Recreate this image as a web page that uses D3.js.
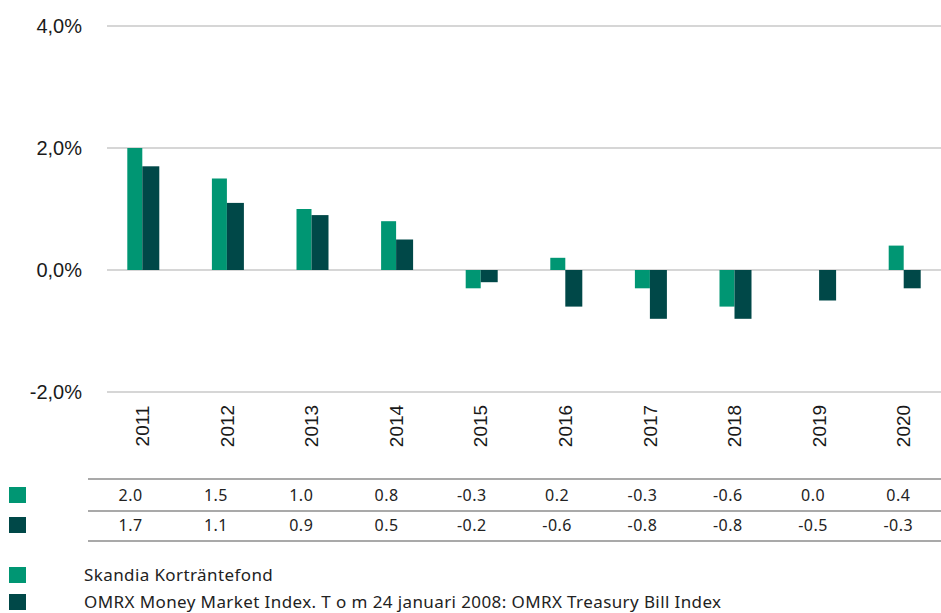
<!DOCTYPE html>
<html>
<head>
<meta charset="utf-8">
<script src="https://cdn.jsdelivr.net/npm/d3@7"></script>
<style>
  body { margin: 0; background: #fff; }
  svg { display: block; }
</style>
</head>
<body>
<svg id="chart" width="941" height="613"></svg>
<script>
// Årlig avkastning, fond vs index
const years = ['2011', '2012', '2013', '2014', '2015', '2016', '2017', '2018', '2019', '2020'];
const fundValues = [2.0, 1.5, 1.0, 0.8, -0.3, 0.2, -0.3, -0.6, 0.0, 0.4];
const indexValues = [1.7, 1.1, 0.9, 0.5, -0.2, -0.6, -0.8, -0.8, -0.5, -0.3];
const yTicks = [-2, 0, 2, 4];
const seriesNames = ['Skandia Korträntefond', 'OMRX Money Market Index. T o m 24 januari 2008: OMRX Treasury Bill Index'];

const colors = ['#009673', '#004848'];
const svg = d3.select('#chart');

const y = d3.scaleLinear().domain([-2, 4]).range([392, 26]);
const x = d3.scaleBand().domain(years).range([100, 946]);
const tableX = d3.scaleBand().domain(years).range([88, 941]);

// gridlines + y labels
const grid = svg.append('g');
grid.selectAll('line').data(yTicks).join('line')
    .attr('x1', 107).attr('x2', 941)
    .attr('y1', d => y(d)).attr('y2', d => y(d))
    .attr('stroke', '#d6d6d6').attr('stroke-width', 2);
grid.selectAll('text').data(yTicks).join('text')
    .attr('x', 82).attr('y', d => y(d)).attr('dy', '0.35em')
    .attr('text-anchor', 'end')
    .attr('font-family', 'Liberation Sans, Arial, sans-serif')
    .attr('font-size', 20).attr('fill', '#1a1a1a')
    .text(d => d.toFixed(1).replace('.', ',') + '%');

// bars
const teal = 15, dark = 17;
const bars = svg.append('g');
bars.selectAll('.fund').data(years).join('rect')
    .attr('class', 'fund')
    .attr('x', d => x(d) + x.bandwidth() / 2 - teal)
    .attr('width', teal)
    .attr('y', (d, i) => y(Math.max(0, fundValues[i])))
    .attr('height', (d, i) => Math.abs(y(fundValues[i]) - y(0)))
    .attr('fill', colors[0]);
bars.selectAll('.index').data(years).join('rect')
    .attr('class', 'index')
    .attr('x', d => x(d) + x.bandwidth() / 2)
    .attr('width', dark)
    .attr('y', (d, i) => y(Math.max(0, indexValues[i])))
    .attr('height', (d, i) => Math.abs(y(indexValues[i]) - y(0)))
    .attr('fill', colors[1]);

// rotated year labels
svg.append('g').selectAll('text').data(years).join('text')
    .attr('transform', d => `translate(${x(d) + x.bandwidth() / 2},426) rotate(-90)`)
    .attr('text-anchor', 'middle').attr('dy', '0.35em')
    .attr('font-family', 'Liberation Sans, Arial, sans-serif')
    .attr('font-size', 19).attr('fill', '#1a1a1a')
    .text(d => d);

// data table
const table = svg.append('g');
[479, 511, 541].forEach(ly => {
    table.append('line')
        .attr('x1', 88).attr('x2', 941).attr('y1', ly).attr('y2', ly)
        .attr('stroke', '#8c8c8c').attr('stroke-width', 1.5);
});
const rows = [fundValues, indexValues];
const rowY = [495, 525];
rows.forEach((vals, r) => {
    table.append('rect')
        .attr('x', 9).attr('y', rowY[r] - 8).attr('width', 17).attr('height', 16)
        .attr('fill', colors[r]);
    table.selectAll('.r' + r).data(years).join('text')
        .attr('class', 'r' + r)
        .attr('x', d => tableX(d) + tableX.bandwidth() / 2)
        .attr('y', rowY[r]).attr('dy', '0.35em')
        .attr('text-anchor', 'middle')
        .attr('font-family', 'Noto Sans, sans-serif')
        .attr('font-size', 16).attr('fill', '#222')
        .attr('letter-spacing', 0.5)
        .text((d, i) => vals[i].toFixed(1));
});

// legend
const legend = svg.append('g');
seriesNames.forEach((name, i) => {
    const ly = 575 + i * 27;
    legend.append('rect')
        .attr('x', 9).attr('y', ly - 8).attr('width', 17).attr('height', 16)
        .attr('fill', colors[i]);
    legend.append('text')
        .attr('x', 84).attr('y', ly).attr('dy', '0.35em')
        .attr('font-family', 'Noto Sans, sans-serif')
        .attr('font-size', 17).attr('fill', '#222')
        .attr('letter-spacing', 0.4)
        .text(name);
});
</script>
</body>
</html>
